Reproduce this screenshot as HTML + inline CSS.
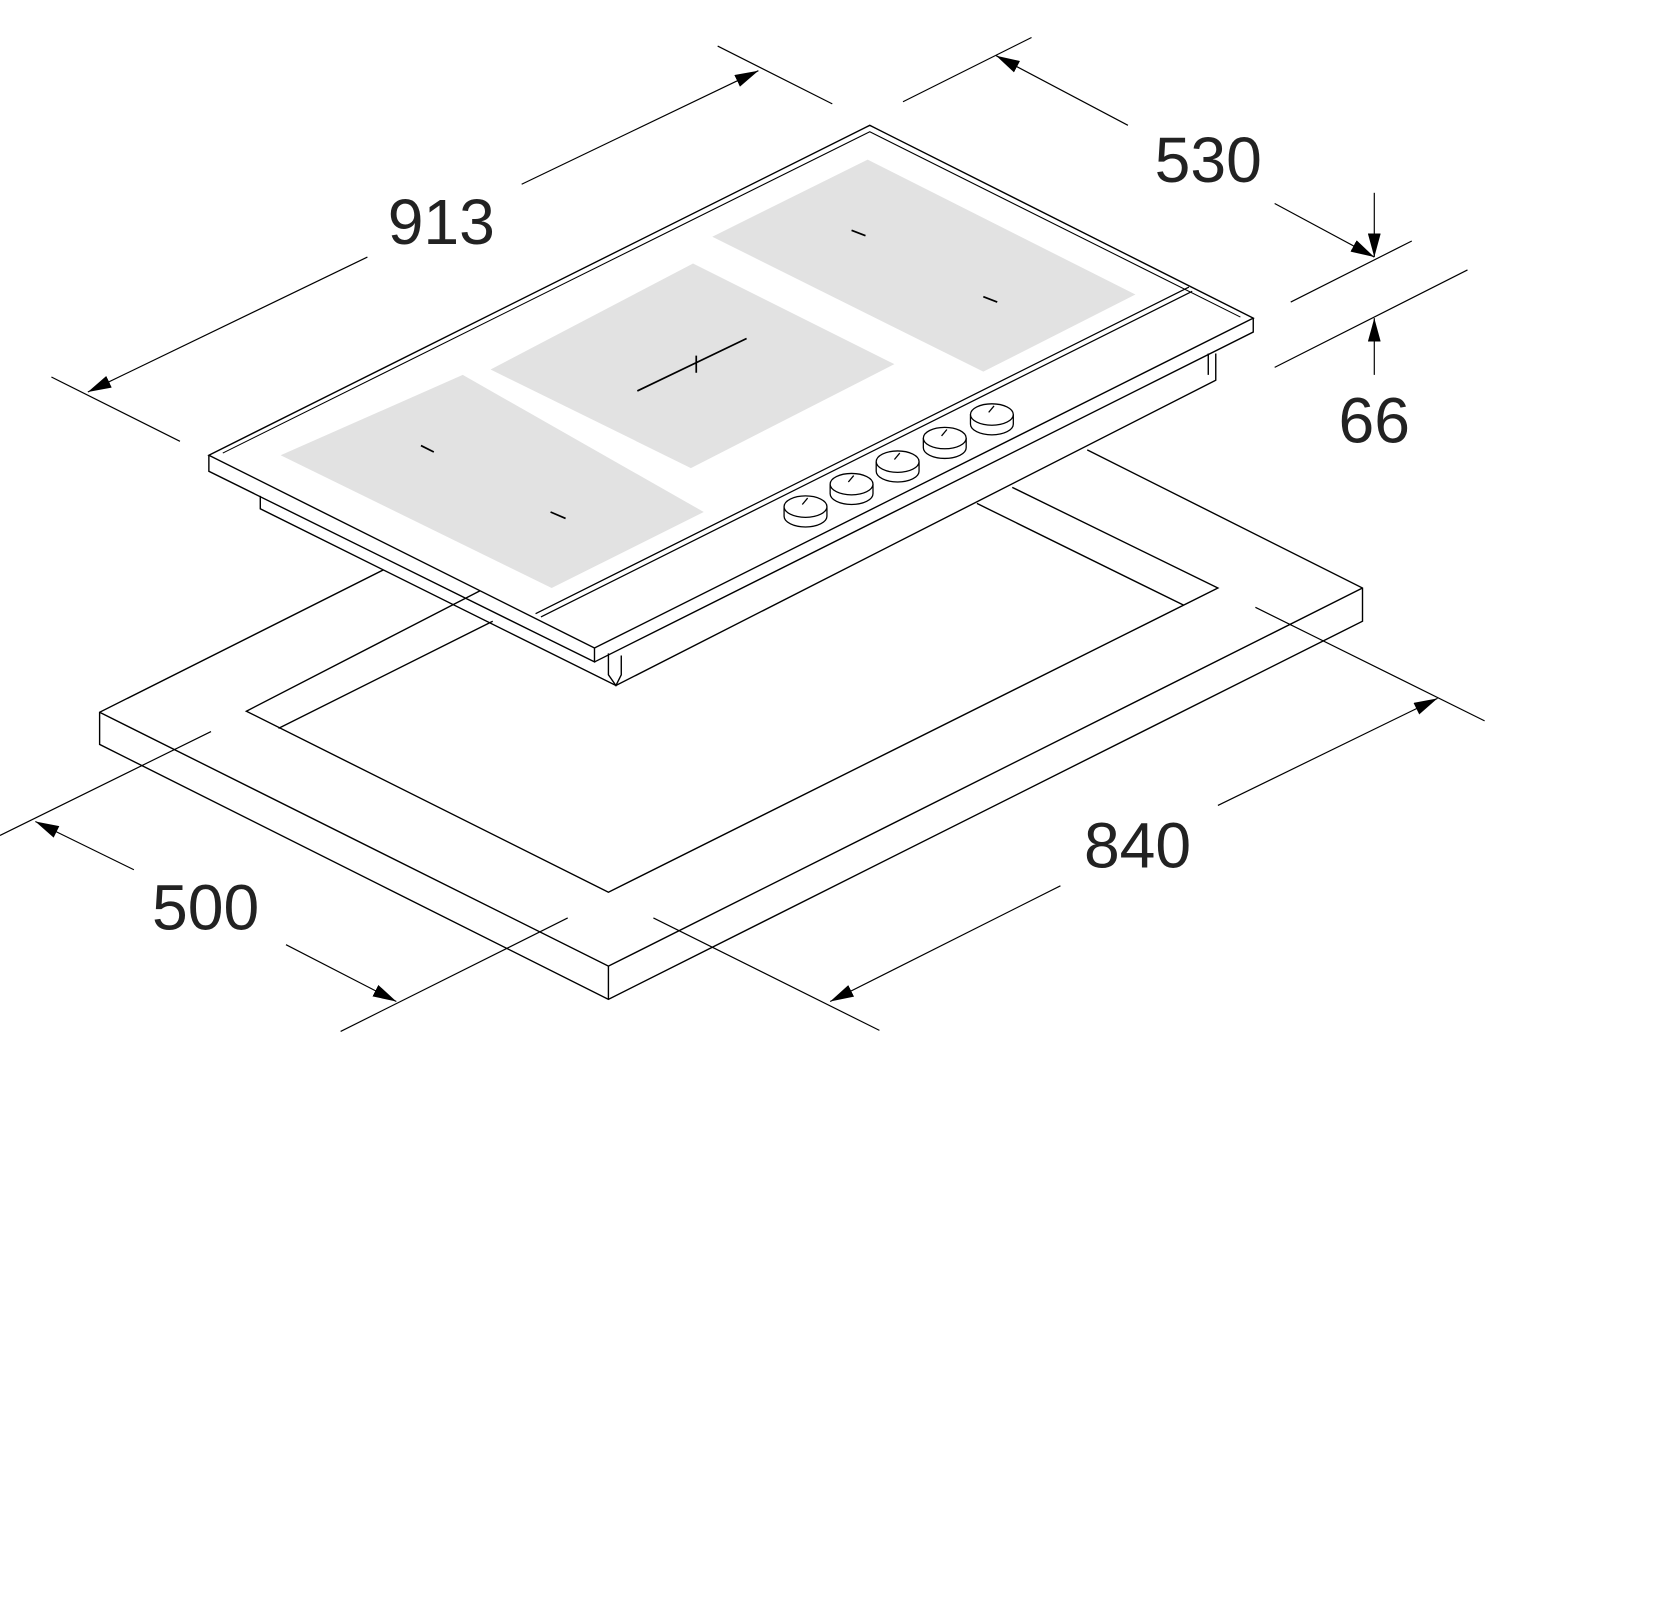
<!DOCTYPE html>
<html><head><style>html,body{margin:0;padding:0;background:#fff}svg{display:block}</style></head><body>
<svg width="1671" height="1597" viewBox="0 0 1560 1491" preserveAspectRatio="none" xmlns="http://www.w3.org/2000/svg">
<defs>
<marker id="b" viewBox="0 0 22 12" refX="22" refY="6" markerWidth="22" markerHeight="12" orient="auto" markerUnits="userSpaceOnUse"><path d="M0,0L22,6L0,12z" fill="#000"/></marker></defs>
<g fill="none" stroke="#000" stroke-width="1.3">
<!-- slab -->
<path d="M358,532L93,665L93,695L568,933L1272,580L1272,549L1015,420"/>
<path d="M93,665L568,902L1272,549M568,902L568,933"/>
<path d="M455,548L230,664L568,833L1137,549L945,455"/>
<path d="M460,580L260,680M912,470L1105,565"/>
<!-- hob -->
<path d="M195,425L812,117L1170,297L555,605Z" fill="#fff"/>
<path d="M195,425L195,440L555,618L555,605M555,618L1170,310L1170,297"/>
<path d="M208,423L812,123L1158,296" stroke-width="1"/>
<path d="M500,573L1110,268M505,576L1113,272" stroke-width="1.2"/>
<path d="M243,463L243,475L575,640L1135,355L1135,330"/>
<path d="M568,610L568,630L575,640L580,630L580,612M1128,330L1128,350"/>
</g>
<g fill="#e2e2e2">
<path d="M262,425L432,350L657,478L515,549Z"/>
<path d="M458,345L647,246L835,340L645,437Z"/>
<path d="M665,221L810,149L1060,275L918,347Z"/>
</g>
<g stroke="#000" stroke-width="1.6" fill="none">
<path d="M393,416L405,422M514,478L528,484M795,215L808,220M918,277L931,282"/>
<path d="M595,365L697,316M650,332L650,348"/>
</g>
<g stroke="#000" stroke-width="1.2" fill="#fff">
<g transform="translate(752,473)"><path d="M-20,0v9a20,10 0 0 0 40,0v-9"/><ellipse rx="20" ry="10"/><path d="M-3,-2l5,-6"/></g>
<g transform="translate(795,452)"><path d="M-20,0v9a20,10 0 0 0 40,0v-9"/><ellipse rx="20" ry="10"/><path d="M-3,-2l5,-6"/></g>
<g transform="translate(838,431)"><path d="M-20,0v9a20,10 0 0 0 40,0v-9"/><ellipse rx="20" ry="10"/><path d="M-3,-2l5,-6"/></g>
<g transform="translate(882,409)"><path d="M-20,0v9a20,10 0 0 0 40,0v-9"/><ellipse rx="20" ry="10"/><path d="M-3,-2l5,-6"/></g>
<g transform="translate(926,387)"><path d="M-20,0v9a20,10 0 0 0 40,0v-9"/><ellipse rx="20" ry="10"/><path d="M-3,-2l5,-6"/></g>
</g>
<!-- dimensions -->
<g stroke="#000" stroke-width="1.1" fill="none">
<path d="M48,352L168,412M670,43L777,97"/>
<path d="M343,240L82,366" marker-end="url(#b)"/>
<path d="M487,172L708,66" marker-end="url(#b)"/>
<path d="M843,95L963,35M1205,282L1318,225M1190,343L1370,252"/>
<path d="M1053,117L930,52" marker-end="url(#b)"/>
<path d="M1190,190L1283,240" marker-end="url(#b)"/>
<path d="M1283,180L1283,240" marker-end="url(#b)"/>
<path d="M1283,350L1283,297" marker-end="url(#b)"/>
<path d="M1172,567L1386,673M610,857L821,962"/>
<path d="M990,827L775,935" marker-end="url(#b)"/>
<path d="M1137,752L1342,652" marker-end="url(#b)"/>
<path d="M0,780L197,683M318,963L530,857"/>
<path d="M125,812L33,767" marker-end="url(#b)"/>
<path d="M267,882L370,935" marker-end="url(#b)"/>
</g>
<g font-family="Liberation Sans, sans-serif" font-size="60" fill="#222" text-anchor="middle">
<text x="412" y="228">913</text>
<text x="1128" y="170">530</text>
<text x="1283" y="413">66</text>
<text x="1062" y="810">840</text>
<text x="192" y="868">500</text>
</g>
</svg>
</body></html>
